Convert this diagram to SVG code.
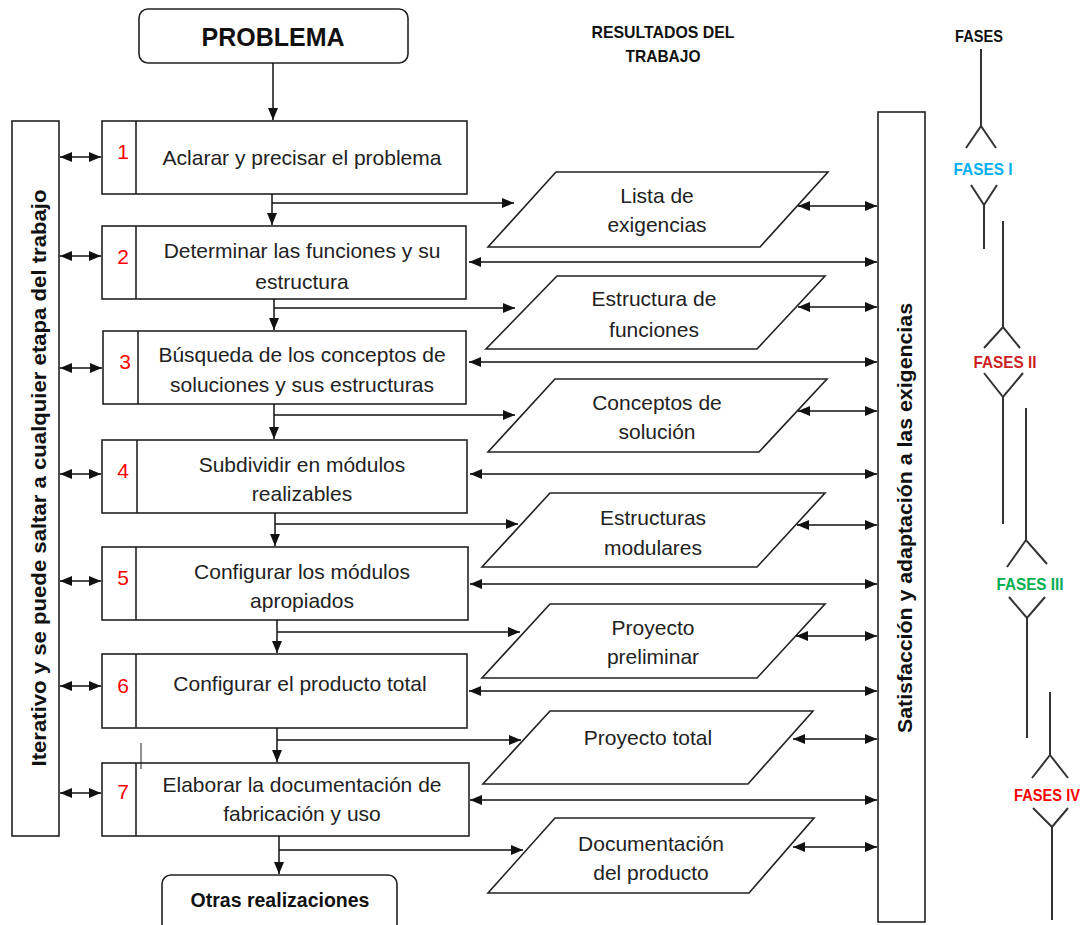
<svg xmlns="http://www.w3.org/2000/svg" width="1086" height="925" viewBox="0 0 1086 925">
  <defs>
    <marker id="ah" markerUnits="userSpaceOnUse" markerWidth="12" markerHeight="10" refX="12" refY="5" orient="auto-start-reverse">
      <path d="M0,0 L12,5 L0,10 z" fill="#111"/>
    </marker>
    <style>
      .box { fill: #fff; stroke: #222; stroke-width: 1.6; }
      .div { stroke: #222; stroke-width: 1.6; }
      .par { fill: #fff; stroke: #222; stroke-width: 1.6; }
      .bar { fill: #fff; stroke: #222; stroke-width: 1.6; }
      .t { font-family: "Liberation Sans", Arial, sans-serif; font-size: 21px; fill: #222; text-anchor: middle; dominant-baseline: central; }
      .b { font-family: "Liberation Sans", Arial, sans-serif; font-weight: bold; fill: #111; text-anchor: middle; dominant-baseline: central; }
      .num { font-family: "Liberation Sans", Arial, sans-serif; font-size: 21px; fill: #ff0000; text-anchor: middle; dominant-baseline: central; }
      .ca { fill: none; stroke: #111; stroke-width: 1.5; marker-end: url(#ah); }
      .cd { fill: none; stroke: #111; stroke-width: 1.5; marker-start: url(#ah); marker-end: url(#ah); }
      .ph { fill: none; stroke: #333; stroke-width: 2; }
    </style>
  </defs>
  <rect width="1086" height="925" fill="#fff"/>

  <!-- headers -->
  <g id="headers">
    <text class="b" x="663" y="32" font-size="17" textLength="143" lengthAdjust="spacingAndGlyphs">RESULTADOS DEL</text>
    <text class="b" x="663" y="56" font-size="17" textLength="75" lengthAdjust="spacingAndGlyphs">TRABAJO</text>
    <text class="b" x="979" y="36" font-size="16.5" textLength="48" lengthAdjust="spacingAndGlyphs">FASES</text>
  </g>

  <!-- start / end terminals -->
  <g id="problema">
    <rect x="139" y="9" width="269" height="54" rx="9" class="box"/>
    <text class="b" x="273" y="37" font-size="25">PROBLEMA</text>
  </g>
  <g id="otras">
    <rect x="162" y="875" width="235" height="58" rx="9" class="box"/>
    <text class="b" x="280" y="900" font-size="19.5">Otras realizaciones</text>
  </g>

  <!-- side bars -->
  <g id="bar-left">
    <rect x="12" y="121" width="47" height="715" class="bar"/>
    <text class="b" font-size="20.5" transform="translate(38,478) rotate(-90)" textLength="577" lengthAdjust="spacingAndGlyphs">Iterativo y se puede saltar a cualquier etapa del trabajo</text>
  </g>
  <g id="bar-right">
    <rect x="878" y="112" width="47" height="810" class="bar"/>
    <text class="b" font-size="20.5" transform="translate(904,518) rotate(-90)" textLength="430" lengthAdjust="spacingAndGlyphs">Satisfacción y adaptación a las exigencias</text>
  </g>

  <!-- process steps -->
  <g id="step1">
    <rect x="102" y="121" width="365" height="73" class="box"/>
    <line x1="136" y1="121" x2="136" y2="194" class="div"/>
    <text class="num" x="123" y="151">1</text>
    <text class="t" x="302" y="157">Aclarar y precisar el problema</text>
  </g>
  <g id="step2">
    <rect x="102" y="226" width="364" height="73" class="box"/>
    <line x1="136" y1="226" x2="136" y2="299" class="div"/>
    <text class="num" x="123" y="256">2</text>
    <text class="t" x="302" y="250">Determinar las funciones y su</text>
    <text class="t" x="302" y="281">estructura</text>
  </g>
  <g id="step3">
    <rect x="103" y="331" width="363" height="73" class="box"/>
    <line x1="138" y1="331" x2="138" y2="404" class="div"/>
    <text class="num" x="125" y="361">3</text>
    <text class="t" x="302" y="354">Búsqueda de los conceptos de</text>
    <text class="t" x="302" y="384">soluciones y sus estructuras</text>
  </g>
  <g id="step4">
    <rect x="102" y="440" width="365" height="73" class="box"/>
    <line x1="137" y1="440" x2="137" y2="513" class="div" stroke-width="2.6"/>
    <text class="num" x="123" y="470">4</text>
    <text class="t" x="302" y="464">Subdividir en módulos</text>
    <text class="t" x="302" y="493">realizables</text>
  </g>
  <g id="step5">
    <rect x="102" y="547" width="366" height="73" class="box"/>
    <line x1="136" y1="547" x2="136" y2="620" class="div"/>
    <text class="num" x="123" y="577">5</text>
    <text class="t" x="302" y="571">Configurar los módulos</text>
    <text class="t" x="302" y="600">apropiados</text>
  </g>
  <g id="step6">
    <rect x="102" y="654" width="365" height="74" class="box"/>
    <line x1="136" y1="654" x2="136" y2="728" class="div"/>
    <text class="num" x="123" y="685">6</text>
    <text class="t" x="300" y="683">Configurar el producto total</text>
  </g>
  <g id="step7">
    <rect x="102" y="763" width="367" height="73" class="box"/>
    <line x1="136" y1="763" x2="136" y2="836" class="div"/>
    <line x1="141" y1="743" x2="141" y2="769" stroke="#222" stroke-width="1"/>
    <text class="num" x="123" y="791">7</text>
    <text class="t" x="302" y="784">Elaborar la documentación de</text>
    <text class="t" x="302" y="813">fabricación y uso</text>
  </g>

  <!-- work results -->
  <g id="result1">
    <polygon points="556,172 828,172 760,247 488,247" class="par"/>
    <text class="t" x="657" y="195">Lista de</text>
    <text class="t" x="657" y="224">exigencias</text>
  </g>
  <g id="result2">
    <polygon points="557,276 825,276 757,349 486,349" class="par"/>
    <text class="t" x="654" y="298">Estructura de</text>
    <text class="t" x="654" y="329">funciones</text>
  </g>
  <g id="result3">
    <polygon points="555,379 827,379 759,452 488,452" class="par"/>
    <text class="t" x="657" y="402">Conceptos de</text>
    <text class="t" x="657" y="431">solución</text>
  </g>
  <g id="result4">
    <polygon points="550,493 825,493 757,567 482,567" class="par"/>
    <text class="t" x="653" y="517">Estructuras</text>
    <text class="t" x="653" y="547">modulares</text>
  </g>
  <g id="result5">
    <polygon points="550,604 825,604 757,678 482,678" class="par"/>
    <text class="t" x="653" y="627">Proyecto</text>
    <text class="t" x="653" y="656">preliminar</text>
  </g>
  <g id="result6">
    <polygon points="550,711 813,711 748,784 483,784" class="par"/>
    <text class="t" x="648" y="737">Proyecto total</text>
  </g>
  <g id="result7">
    <polygon points="555,818 814,818 749,893 488,893" class="par"/>
    <text class="t" x="651" y="843">Documentación</text>
    <text class="t" x="651" y="872">del producto</text>
  </g>

  <!-- connectors -->
  <g id="connectors">
    <!-- main flow -->
    <line x1="273" y1="63" x2="273" y2="120" class="ca"/>
    <line x1="272" y1="194" x2="272" y2="225" class="ca"/>
    <line x1="274" y1="299" x2="274" y2="330" class="ca"/>
    <line x1="274" y1="404" x2="274" y2="439" class="ca"/>
    <line x1="275" y1="513" x2="275" y2="546" class="ca"/>
    <line x1="277" y1="620" x2="277" y2="653" class="ca"/>
    <line x1="277" y1="728" x2="277" y2="762" class="ca"/>
    <line x1="279" y1="836" x2="279" y2="874" class="ca"/>
    <!-- branches to results -->
    <line x1="272" y1="203" x2="514" y2="203" class="ca"/>
    <line x1="274" y1="308" x2="515" y2="308" class="ca"/>
    <line x1="274" y1="415" x2="515" y2="415" class="ca"/>
    <line x1="275" y1="524" x2="518" y2="524" class="ca"/>
    <line x1="277" y1="632" x2="520" y2="632" class="ca"/>
    <line x1="277" y1="740" x2="521" y2="740" class="ca"/>
    <line x1="279" y1="850" x2="523" y2="850" class="ca"/>
    <!-- left bar links -->
    <line x1="60" y1="157" x2="101" y2="157" class="cd"/>
    <line x1="60" y1="256" x2="101" y2="256" class="cd"/>
    <line x1="60" y1="368" x2="102" y2="368" class="cd"/>
    <line x1="60" y1="474" x2="101" y2="474" class="cd"/>
    <line x1="60" y1="581" x2="101" y2="581" class="cd"/>
    <line x1="60" y1="686" x2="101" y2="686" class="cd"/>
    <line x1="60" y1="793" x2="101" y2="793" class="cd"/>
    <!-- steps to right bar -->
    <line x1="469" y1="262" x2="877" y2="262" class="cd"/>
    <line x1="469" y1="362" x2="877" y2="362" class="cd"/>
    <line x1="470" y1="474" x2="877" y2="474" class="cd"/>
    <line x1="470" y1="584" x2="877" y2="584" class="cd"/>
    <line x1="469" y1="691" x2="877" y2="691" class="cd"/>
    <line x1="470" y1="800" x2="877" y2="800" class="cd"/>
    <!-- results to right bar -->
    <line x1="798" y1="206" x2="877" y2="206" class="cd"/>
    <line x1="798" y1="307" x2="877" y2="307" class="cd"/>
    <line x1="798" y1="411" x2="877" y2="411" class="cd"/>
    <line x1="797" y1="525" x2="877" y2="525" class="cd"/>
    <line x1="796" y1="636" x2="877" y2="636" class="cd"/>
    <line x1="793" y1="739" x2="877" y2="739" class="cd"/>
    <line x1="793" y1="847" x2="877" y2="847" class="cd"/>
  </g>

  <!-- phase scale -->
  <g id="phase1">
    <polyline points="981,49 981,126" class="ph"/>
    <polyline points="966,148 981,126 996,148" class="ph"/>
    <text class="b" x="983" y="169" font-size="16.5" textLength="59" lengthAdjust="spacingAndGlyphs" style="fill:#00b0f0">FASES I</text>
    <polyline points="971,185 984,205 997,185" class="ph"/>
    <line x1="984" y1="205" x2="984" y2="249" class="ph"/>
  </g>
  <g id="phase2">
    <line x1="1003" y1="221" x2="1003" y2="327" class="ph"/>
    <polyline points="984,348 1003,327 1020,348" class="ph"/>
    <text class="b" x="1005" y="362" font-size="16.5" textLength="63" lengthAdjust="spacingAndGlyphs" style="fill:#cc1f1f">FASES II</text>
    <polyline points="984,373 1003,397 1023,373" class="ph"/>
    <line x1="1003" y1="397" x2="1003" y2="524" class="ph"/>
  </g>
  <g id="phase3">
    <line x1="1026" y1="408" x2="1026" y2="540" class="ph"/>
    <polyline points="1007,567 1026,540 1047,564" class="ph"/>
    <text class="b" x="1030" y="584" font-size="16.5" textLength="67" lengthAdjust="spacingAndGlyphs" style="fill:#00b050">FASES III</text>
    <polyline points="1009,597 1027,618 1045,597" class="ph"/>
    <line x1="1027" y1="618" x2="1027" y2="738" class="ph"/>
  </g>
  <g id="phase4">
    <line x1="1050" y1="692" x2="1050" y2="755" class="ph"/>
    <polyline points="1032,778 1050,755 1068,778" class="ph"/>
    <text class="b" x="1047" y="795" font-size="16" textLength="66" lengthAdjust="spacingAndGlyphs" style="fill:#ff0000">FASES IV</text>
    <polyline points="1033,808 1052,827 1068,808" class="ph"/>
    <line x1="1052" y1="827" x2="1052" y2="920" class="ph"/>
  </g>
</svg>
